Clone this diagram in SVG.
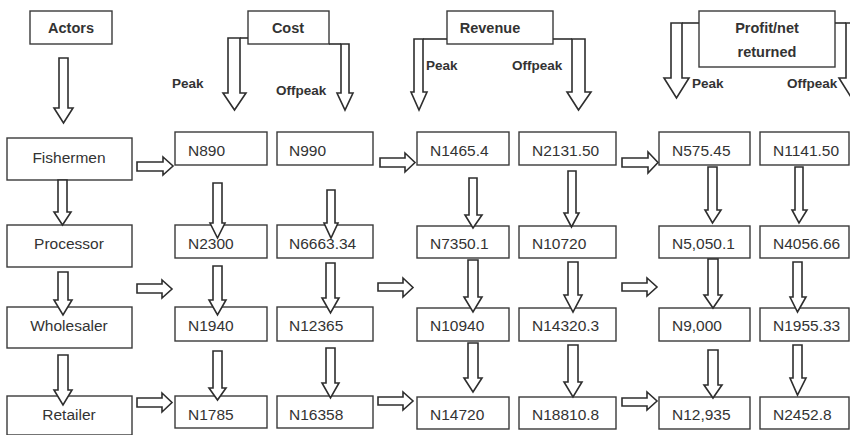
<svg xmlns="http://www.w3.org/2000/svg" width="850" height="435" viewBox="0 0 850 435">
<style>
.box{fill:#fff;stroke:#3a3a3a;stroke-width:1.4}
.arr{fill:#fff;stroke:#2e2e2e;stroke-width:1.6;stroke-linejoin:miter}
.ln{fill:none;stroke:#2e2e2e;stroke-width:1.6}
text{font-family:"Liberation Sans",Arial,sans-serif;fill:#333}
.v{font-size:15.5px}
.a{font-size:15.5px;text-anchor:middle}
.h{font-size:14.5px;font-weight:bold;text-anchor:middle}
.l{font-size:13.5px;font-weight:bold}
</style>
<rect width="850" height="435" fill="#fff"/>
<g id="headers">
<g id="h-actors"><rect class="box" x="30" y="11" width="82" height="33"/><text class="h" x="71" y="33">Actors</text></g>
<g id="h-cost"><rect class="box" x="248" y="11" width="81" height="33"/><text class="h" x="288" y="33">Cost</text></g>
<g id="h-revenue"><rect class="box" x="447" y="11" width="106" height="33"/><text class="h" x="490" y="33">Revenue</text></g>
<g id="h-profit"><rect class="box" x="699" y="11" width="136" height="56"/><text class="h" x="767" y="33">Profit/net</text><text class="h" x="767" y="57">returned</text></g>
</g>
<g id="labels">
<text class="l" x="172" y="88">Peak</text>
<text class="l" x="276" y="95">Offpeak</text>
<text class="l" x="426" y="70">Peak</text>
<text class="l" x="512" y="70">Offpeak</text>
<text class="l" x="692" y="88">Peak</text>
<text class="l" x="787" y="88">Offpeak</text>
</g>
<g id="actors">
<g id="fishermen"><rect class="box" x="7" y="138" width="125" height="42"/><text class="a" x="69" y="162.5">Fishermen</text></g>
<g id="processor"><rect class="box" x="7" y="225" width="125" height="42"/><text class="a" x="69" y="248.5">Processor</text></g>
<g id="wholesaler"><rect class="box" x="7" y="307" width="125" height="41"/><text class="a" x="69" y="330.5">Wholesaler</text></g>
<g id="retailer"><rect class="box" x="7" y="396" width="125" height="39"/><text class="a" x="69" y="419.5">Retailer</text></g>
</g>
<g id="values">
<g id="c-peak-1"><rect class="box" x="175" y="132" width="92" height="33"/><text class="v" x="188" y="155.5">N890</text></g>
<g id="c-off-1"><rect class="box" x="277" y="132" width="96" height="33"/><text class="v" x="289" y="155.5">N990</text></g>
<g id="r-peak-1"><rect class="box" x="417" y="132" width="92" height="33"/><text class="v" x="430" y="155.5">N1465.4</text></g>
<g id="r-off-1"><rect class="box" x="519" y="132" width="97" height="33"/><text class="v" x="532" y="155.5">N2131.50</text></g>
<g id="p-peak-1"><rect class="box" x="659" y="132" width="91" height="33"/><text class="v" x="672" y="155.5">N575.45</text></g>
<g id="p-off-1"><rect class="box" x="760" y="132" width="89" height="33"/><text class="v" x="773" y="155.5">N1141.50</text></g>

<g id="c-peak-2"><rect class="box" x="175" y="225" width="92" height="33"/><text class="v" x="188" y="248.5">N2300</text></g>
<g id="c-off-2"><rect class="box" x="277" y="225" width="96" height="33"/><text class="v" x="289" y="248.5">N6663.34</text></g>
<g id="r-peak-2"><rect class="box" x="417" y="226" width="92" height="32"/><text class="v" x="430" y="248.5">N7350.1</text></g>
<g id="r-off-2"><rect class="box" x="519" y="226" width="97" height="32"/><text class="v" x="532" y="248.5">N10720</text></g>
<g id="p-peak-2"><rect class="box" x="659" y="226" width="91" height="32"/><text class="v" x="672" y="248.5">N5,050.1</text></g>
<g id="p-off-2"><rect class="box" x="760" y="226" width="89" height="32"/><text class="v" x="773" y="248.5">N4056.66</text></g>

<g id="c-peak-3"><rect class="box" x="175" y="307" width="92" height="34"/><text class="v" x="188" y="330.5">N1940</text></g>
<g id="c-off-3"><rect class="box" x="277" y="307" width="96" height="34"/><text class="v" x="289" y="330.5">N12365</text></g>
<g id="r-peak-3"><rect class="box" x="417" y="308" width="92" height="33"/><text class="v" x="430" y="330.5">N10940</text></g>
<g id="r-off-3"><rect class="box" x="519" y="308" width="97" height="33"/><text class="v" x="532" y="330.5">N14320.3</text></g>
<g id="p-peak-3"><rect class="box" x="659" y="308" width="91" height="33"/><text class="v" x="672" y="330.5">N9,000</text></g>
<g id="p-off-3"><rect class="box" x="760" y="308" width="89" height="33"/><text class="v" x="773" y="330.5">N1955.33</text></g>

<g id="c-peak-4"><rect class="box" x="175" y="396" width="92" height="32"/><text class="v" x="188" y="419.5">N1785</text></g>
<g id="c-off-4"><rect class="box" x="277" y="396" width="96" height="32"/><text class="v" x="289" y="419.5">N16358</text></g>
<g id="r-peak-4"><rect class="box" x="417" y="397" width="92" height="32"/><text class="v" x="430" y="419.5">N14720</text></g>
<g id="r-off-4"><rect class="box" x="519" y="397" width="97" height="32"/><text class="v" x="532" y="419.5">N18810.8</text></g>
<g id="p-peak-4"><rect class="box" x="659" y="397" width="91" height="32"/><text class="v" x="672" y="419.5">N12,935</text></g>
<g id="p-off-4"><rect class="box" x="760" y="397" width="89" height="32"/><text class="v" x="773" y="419.5">N2452.8</text></g>
</g>
<g id="connectors">
<polyline class="ln" points="240,38 248,38"/>
<polyline class="ln" points="329,44 341,44"/>
<polyline class="ln" points="423,39 447,39"/>
<polyline class="ln" points="553,39 572,39"/>
<polyline class="ln" points="682,23 699,23"/>
<polyline class="ln" points="835,23 846,23"/>
<polygon class="arr" points="228,38 240,38 240,93 246,93 234.5,110 223,93 228,93"/>
<polygon class="arr" points="341,44 349,44 349,93 353,93 345,110 337,93 341,93"/>
<polygon class="arr" points="414,39 423,39 423,92 427,92 419,110 411,92 414,92"/>
<polygon class="arr" points="572,39 585,39 585,92 591,92 578.5,110 567,92 572,92"/>
<polygon class="arr" points="671,23 682,23 682,78 689,78 676.5,98 664,78 671,78"/>
<polygon class="arr" points="846,23 857,23 857,78 864,78 851.5,98 839,78 846,78"/>

<polygon class="arr" points="59,58 68,58 68,108 73,108 63.5,123 54,108 59,108"/>
<polygon class="arr" points="58,180 67,180 67,212 71,212 62.5,225 54,212 58,212"/>
<polygon class="arr" points="58,272 68,272 68,300 72,300 63,315 54,300 58,300"/>
<polygon class="arr" points="58,355 68,355 68,390 72,390 63,405 54,390 58,390"/>

<polygon class="arr" points="213,183 222,183 222,223 225,223 217.5,238 210,223 213,223"/>
<polygon class="arr" points="213,266 222,266 222,300 226,300 217.5,315 209,300 213,300"/>
<polygon class="arr" points="213,351 222,351 222,388 226,388 217.5,400 209,388 213,388"/>

<polygon class="arr" points="327,190 335,190 335,223 338,223 331,238 324,223 327,223"/>
<polygon class="arr" points="326,263 335,263 335,298 339,298 330.5,313 322,298 326,298"/>
<polygon class="arr" points="326,348 335,348 335,383 339,383 330.5,398 322,383 326,383"/>

<polygon class="arr" points="469,178 477,178 477,215 482,215 473,228 465,215 469,215"/>
<polygon class="arr" points="468,260 478,260 478,297 482,297 473,312 464,297 468,297"/>
<polygon class="arr" points="468,343 478,343 478,378 482,378 473,392 464,378 468,378"/>

<polygon class="arr" points="568,171 576,171 576,213 579,213 571.5,227 564,213 568,213"/>
<polygon class="arr" points="568,262 578,262 578,295 582,295 573,312 564,295 568,295"/>
<polygon class="arr" points="568,345 578,345 578,382 582,382 573,397 564,382 568,382"/>

<polygon class="arr" points="708,167 717,167 717,210 721,210 712.5,223 705,210 708,210"/>
<polygon class="arr" points="708,259 718,259 718,295 722,295 713,308 704,295 708,295"/>
<polygon class="arr" points="708,350 718,350 718,385 722,385 713,398 704,385 708,385"/>

<polygon class="arr" points="795,167 803,167 803,210 807,210 799,223 792,210 795,210"/>
<polygon class="arr" points="793,262 802,262 802,297 806,297 797.5,312 790,297 793,297"/>
<polygon class="arr" points="793,345 802,345 802,378 806,378 797.5,395 790,378 793,378"/>

<polygon class="arr" points="137,162 163,162 163,157 173,166 163,175 163,171 137,171"/>
<polygon class="arr" points="137,284 162,284 162,280 172,289 162,298 162,293 137,293"/>
<polygon class="arr" points="137,398 162,398 162,393 172,402.5 162,412 162,407 137,407"/>
<polygon class="arr" points="380,158 405,158 405,153 415,162.5 405,172 405,167 380,167"/>
<polygon class="arr" points="378,283 403,283 403,278 413,287.5 403,297 403,291 378,291"/>
<polygon class="arr" points="378,397 403,397 403,392 413,401 403,410 403,405 378,405"/>
<polygon class="arr" points="622,158 648,158 648,152 658,162.5 648,173 648,167 622,167"/>
<polygon class="arr" points="622,283 647,283 647,278 657,287 647,296 647,291 622,291"/>
<polygon class="arr" points="622,398 647,398 647,392 657,401 647,410 647,406 622,406"/>
</g>
</svg>
